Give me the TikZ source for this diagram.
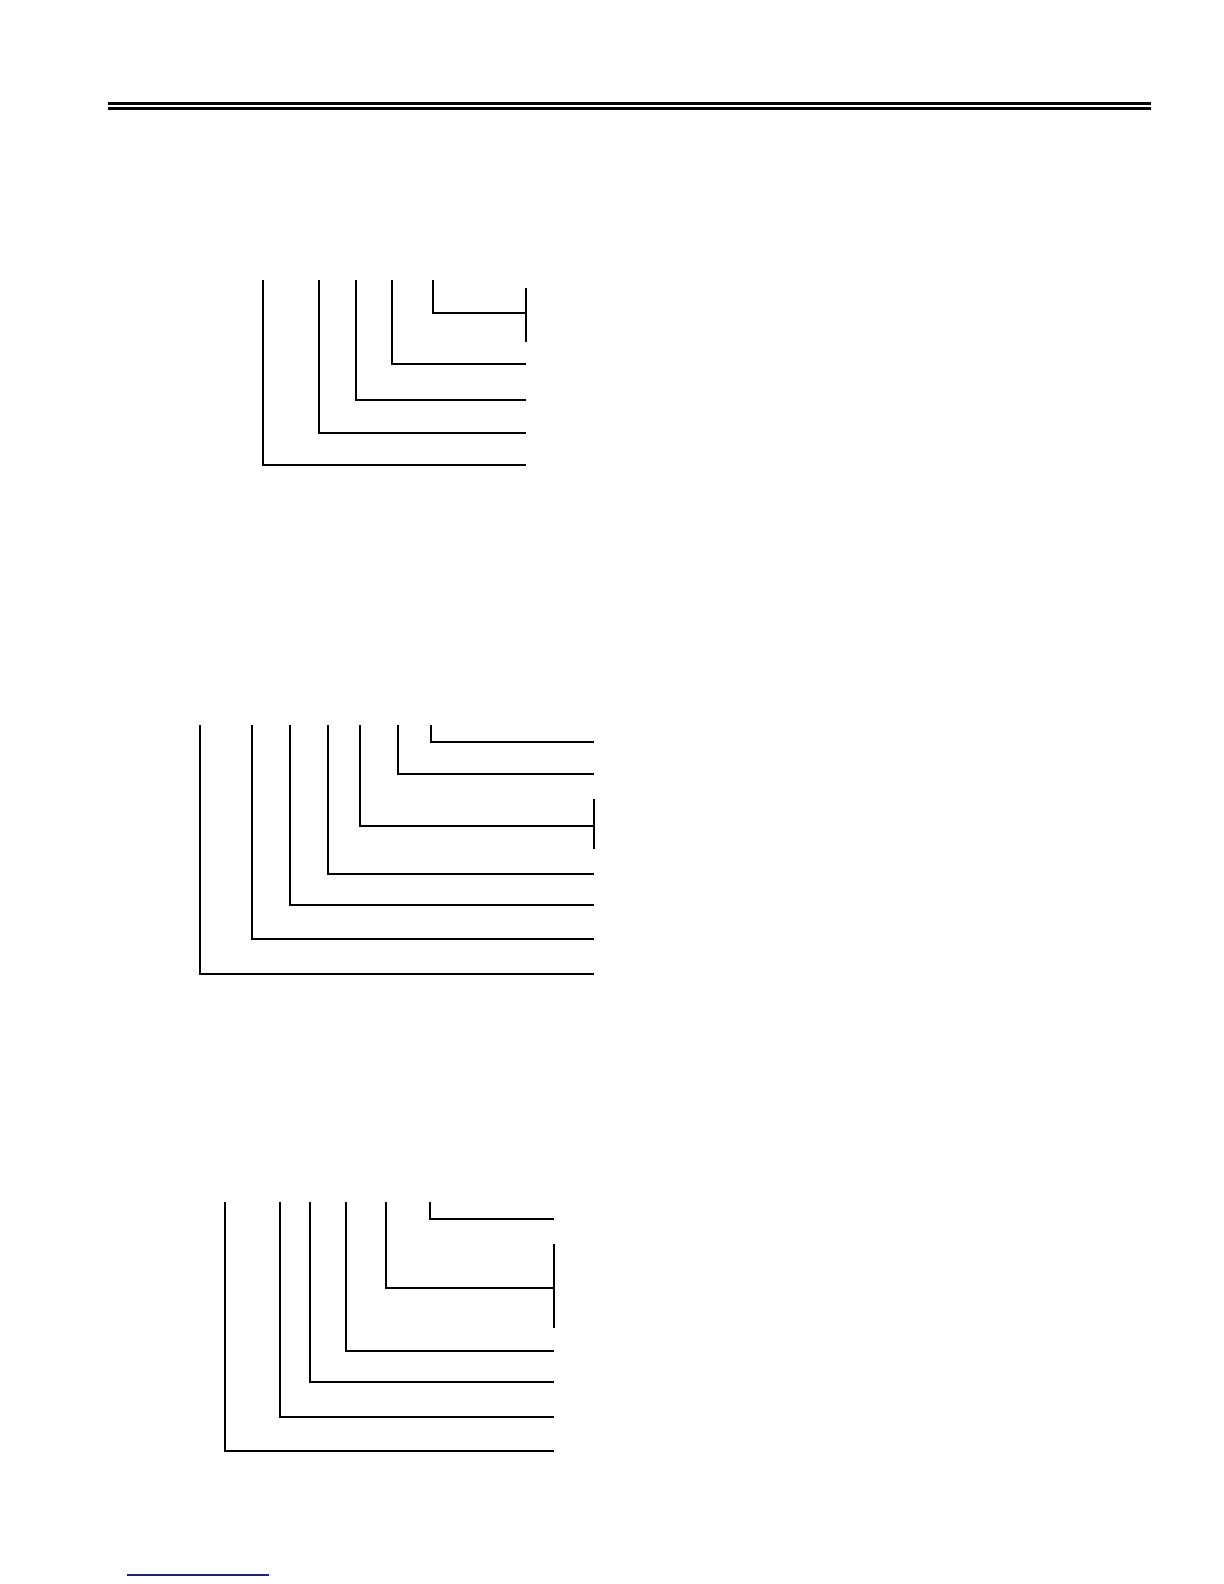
\documentclass[tikz,border=0pt]{standalone}
\usepackage{tikz}

\begin{document}
\begin{tikzpicture}[x=0.5pt,y=-0.5pt,line width=0.9pt]
  \useasboundingbox (0,0) rectangle (1224,1584);
  % header rule
  \draw[line width=1.5pt] (108,103.3)--(1151,103.3);
  \draw[line width=1.5pt] (108,108.5)--(1151,108.5);

  % first group
  \foreach \x/\y in {263/464.7, 319/432.7, 356/399.7, 392/363.7, 432.7/312.7}
    \draw (\x,280) |- (526,\y);
  \draw (526,288.3)--(526,341.7);

  % second group
  \foreach \x/\y in {200/973.7, 252/938.7, 290/904.7, 327.7/873.7, 360/825.7, 398/773.7, 430.7/741.7}
    \draw (\x,725) |- (594,\y);
  \draw (594,799)--(594,849.3);

  % third group
  \foreach \x/\y in {224.7/1451, 279.7/1417, 310/1381.7, 346/1351, 385.7/1287.7, 429.7/1219}
    \draw (\x,1201.7) |- (553.7,\y);
  \draw (553.7,1244)--(553.7,1327.7);

  % footer
  \definecolor{footblue}{RGB}{30,30,130}
  \draw[footblue,line width=0.6pt] (126.7,1575)--(269,1575);
\end{tikzpicture}
\end{document}
